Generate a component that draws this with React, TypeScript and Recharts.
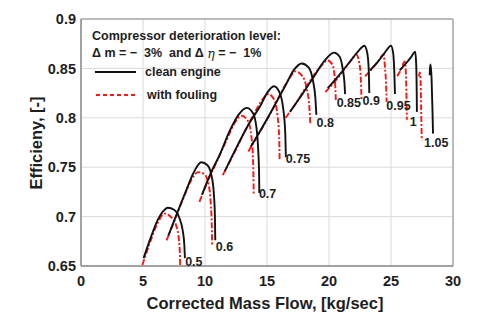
import {
  ComposedChart,
  Line,
  Scatter,
  XAxis,
  YAxis,
  CartesianGrid,
  ReferenceArea,
  Label,
} from 'recharts';

// speed lines, [mass flow, efficiency]; clean engine
const clean05 = [[5.05, 0.658], [5.6, 0.678], [6.2, 0.697], [6.6, 0.705], [7.0, 0.709], [7.5, 0.707], [7.95, 0.698], [8.2, 0.686], [8.33, 0.672], [8.38, 0.658]];
const clean06 = [[7.05, 0.681], [7.8, 0.705], [8.5, 0.727], [9.1, 0.745], [9.7, 0.755], [10.2, 0.752], [10.55, 0.74], [10.72, 0.722], [10.8, 0.7], [10.83, 0.676]];
const clean07 = [[9.75, 0.722], [10.5, 0.745], [11.2, 0.763], [12.0, 0.787], [12.7, 0.803], [13.35, 0.81], [13.85, 0.805], [14.15, 0.79], [14.3, 0.765], [14.36, 0.745], [14.38, 0.724]];
const clean075 = [[11.6, 0.746], [12.5, 0.769], [13.5, 0.793], [14.5, 0.813], [15.0, 0.825], [15.55, 0.832], [16.0, 0.826], [16.3, 0.81], [16.47, 0.785], [16.52, 0.76]];
const clean08 = [[13.7, 0.771], [14.6, 0.79], [15.5, 0.81], [16.5, 0.833], [17.2, 0.849], [17.8, 0.855], [18.35, 0.851], [18.7, 0.838], [18.9, 0.82], [18.98, 0.803]];
const clean085 = [[16.85, 0.806], [17.8, 0.823], [18.8, 0.842], [19.6, 0.857], [20.4, 0.866], [20.85, 0.862], [21.1, 0.85], [21.25, 0.835], [21.3, 0.824]];
const clean09 = [[19.9, 0.83], [20.8, 0.843], [21.7, 0.857], [22.4, 0.868], [22.85, 0.873], [23.08, 0.866], [23.2, 0.85], [23.25, 0.825]];
const clean095 = [[23.3, 0.848], [23.9, 0.856], [24.5, 0.866], [25.0, 0.873], [25.18, 0.865], [25.27, 0.845], [25.32, 0.824]];
const clean1 = [[25.7, 0.848], [26.2, 0.855], [26.65, 0.862], [26.95, 0.867], [27.03, 0.855], [27.07, 0.83], [27.09, 0.806]];
const clean105 = [[28.12, 0.843], [28.15, 0.851], [28.2, 0.854], [28.27, 0.84], [28.34, 0.81], [28.39, 0.784]];

// with fouling
const foul05 = [[4.95, 0.651], [5.6, 0.675], [6.2, 0.694], [6.75, 0.703], [7.3, 0.699], [7.7, 0.69], [7.9, 0.676], [7.98, 0.66], [8.0, 0.651]];
const foul06 = [[6.9, 0.676], [7.6, 0.698], [8.3, 0.72], [8.9, 0.737], [9.45, 0.745], [9.95, 0.743], [10.3, 0.732], [10.47, 0.712], [10.55, 0.69], [10.58, 0.67]];
const foul07 = [[9.55, 0.715], [10.3, 0.738], [11.0, 0.757], [11.8, 0.779], [12.4, 0.795], [12.95, 0.802], [13.45, 0.797], [13.75, 0.78], [13.88, 0.755], [13.93, 0.723]];
const foul075 = [[11.43, 0.742], [12.3, 0.763], [13.2, 0.786], [14.0, 0.805], [14.6, 0.818], [15.1, 0.824], [15.55, 0.819], [15.85, 0.802], [15.98, 0.78], [16.02, 0.756]];
const foul08 = [[13.5, 0.766], [14.4, 0.785], [15.3, 0.805], [16.2, 0.827], [16.8, 0.84], [17.3, 0.847], [17.8, 0.843], [18.2, 0.83], [18.42, 0.81], [18.5, 0.793]];
const foul085 = [[16.5, 0.8], [17.4, 0.816], [18.3, 0.834], [19.2, 0.85], [19.9, 0.858], [20.3, 0.853], [20.48, 0.838], [20.55, 0.818]];
const foul09 = [[19.7, 0.826], [20.5, 0.837], [21.3, 0.85], [21.9, 0.86], [22.2, 0.864], [22.45, 0.855], [22.57, 0.838], [22.62, 0.819]];
const foul095 = [[22.9, 0.842], [23.5, 0.85], [24.0, 0.858], [24.4, 0.864], [24.52, 0.85], [24.6, 0.835], [24.65, 0.816]];
const foul1 = [[25.5, 0.842], [25.85, 0.85], [26.1, 0.857], [26.2, 0.845], [26.25, 0.82], [26.28, 0.798]];
const foul105 = [[27.25, 0.842], [27.32, 0.846], [27.38, 0.84], [27.43, 0.81], [27.48, 0.777]];

const cleanLines = [clean05, clean06, clean07, clean075, clean08, clean085, clean09, clean095, clean1, clean105];
const foulLines = [foul05, foul06, foul07, foul075, foul08, foul085, foul09, foul095, foul1, foul105];

// relative speed labels at the choke end
const speedNames = ['0.5', '0.6', '0.7', '0.75', '0.8', '0.85', '0.9', '0.95', '1', '1.05'];
const speedLabelX = [9.1, 11.57, 15.05, 17.5, 19.7, 21.6, 23.4, 25.6, 26.8, 28.65];
const speedLabelY = [0.654, 0.669, 0.7226, 0.758, 0.795, 0.8147, 0.8173, 0.812, 0.796, 0.7748];

const xTicks = [0, 5, 10, 15, 20, 25, 30];
const yTicks = [0.65, 0.7, 0.75, 0.8, 0.85, 0.9];

const FONT = '"Liberation Sans", Arial, Helvetica, sans-serif';
const INK = '#1e1e1e';
const RED = '#ff1414';

const toPoints = (pts: number[][]) => pts.map(([x, y]) => ({ x, y }));

const labelData = speedNames.map((name, i) => ({ x: speedLabelX[i], y: speedLabelY[i], name }));

const SpeedLabel = (props: any) => {
  const { cx, cy, payload } = props;
  return (
    <text x={cx} y={cy} textAnchor="middle" dominantBaseline="central"
      fontFamily={FONT} fontWeight="bold" fontSize={12.5} fill={INK}>
      {payload.name}
    </text>
  );
};

export default function App() {
  return (
    <div style={{ position: 'absolute', left: 0, top: 0, width: 480, height: 324, background: '#fff' }}>
      <ComposedChart width={480} height={324} margin={{ top: 19, right: 27, bottom: 0, left: 21 }}>
        <CartesianGrid stroke="#dadada" strokeWidth={1} />
        <XAxis
          type="number"
          dataKey="x"
          domain={[0, 30]}
          ticks={xTicks}
          allowDataOverflow
          height={58}
          tickSize={0}
          tickMargin={10}
          axisLine={{ stroke: '#8a8a8a' }}
          tick={{ fontFamily: FONT, fontWeight: 'bold', fontSize: 14.5, fill: INK }}
        >
          <Label
            content={() => (
              <text x={265} y={303} textAnchor="middle" dominantBaseline="central"
                fontFamily={FONT} fontWeight="bold" fontSize={16.5} fill={INK}>
                Corrected Mass Flow, [kg/sec]
              </text>
            )}
          />
        </XAxis>
        <YAxis
          type="number"
          dataKey="y"
          domain={[0.65, 0.9]}
          ticks={yTicks}
          allowDataOverflow
          width={60}
          tickSize={0}
          tickMargin={5}
          axisLine={{ stroke: '#8a8a8a' }}
          tick={{ fontFamily: FONT, fontWeight: 'bold', fontSize: 14.5, fill: INK }}
        >
          <Label
            content={() => (
              <text x={36} y={143} transform="rotate(-90 36 143)" textAnchor="middle" dominantBaseline="central"
                fontFamily={FONT} fontWeight="bold" fontSize={16.5} fill={INK}>
                Efficieny, [-]
              </text>
            )}
          />
        </YAxis>
        <ReferenceArea x1={0} x2={30} y1={0.65} y2={0.9} fill="none" stroke="#8a8a8a" strokeWidth={1} />

        {foulLines.map((pts, i) => (
          <Line key={`f${i}`} data={toPoints(pts)} dataKey="y" type="monotone" stroke={RED}
            strokeWidth={1.9} strokeDasharray="6 2 2 2" dot={false} isAnimationActive={false} />
        ))}
        {cleanLines.map((pts, i) => (
          <Line key={`c${i}`} data={toPoints(pts)} dataKey="y" type="monotone" stroke="#111"
            strokeWidth={1.9} dot={false} isAnimationActive={false} />
        ))}
        <Scatter data={labelData} dataKey="y" shape={SpeedLabel} isAnimationActive={false} />
      </ComposedChart>

      <svg width={480} height={324} style={{ position: 'absolute', left: 0, top: 0, pointerEvents: 'none' }}>
        <g fontFamily={FONT} fontWeight="bold" fontSize={12.5} fill={INK}>
          <text x={92} y={36} dominantBaseline="central">Compressor deterioration level:</text>
          <text x={92} y={52.5} dominantBaseline="central" style={{ whiteSpace: 'pre' }}>
            {'Δ m = −  3%  and Δ '}
            <tspan fontFamily='"DejaVu Serif", serif' fontStyle="italic" fontWeight="normal">η</tspan>
            {' = −  1%'}
          </text>
          <line x1={95} y1={72} x2={136} y2={72} stroke="#111" strokeWidth={1.9} />
          <text x={145} y={72} dominantBaseline="central">clean engine</text>
          <line x1={96} y1={95} x2={138} y2={95} stroke={RED} strokeWidth={1.9} strokeDasharray="4 3" />
          <text x={147} y={95} dominantBaseline="central">with fouling</text>
        </g>
      </svg>
    </div>
  );
}
